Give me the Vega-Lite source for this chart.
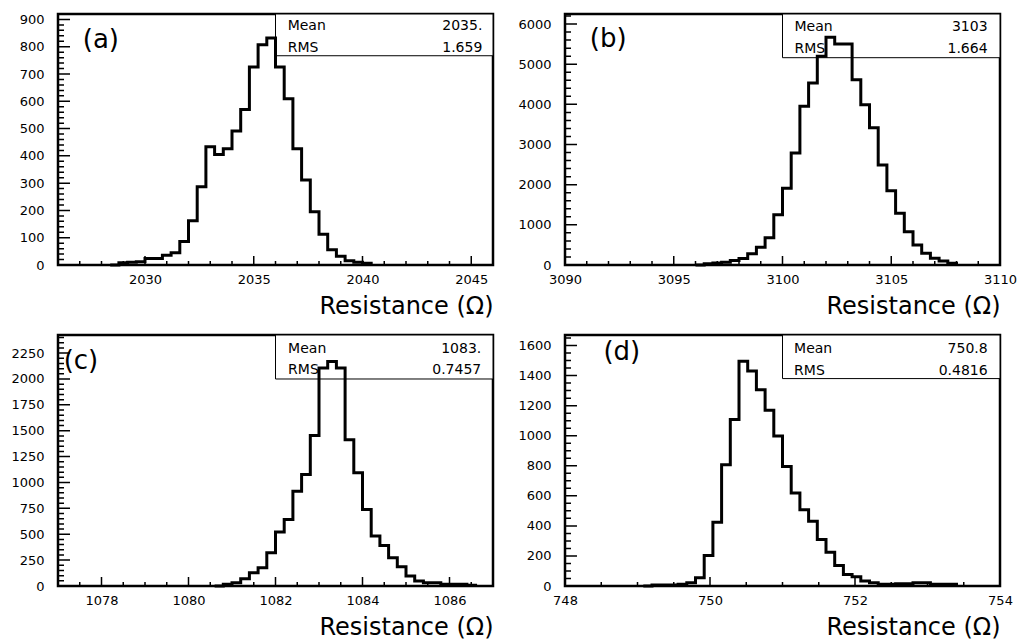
{
  "$schema": "https://vega.github.io/schema/vega-lite/v6.json",
  "background": "white",
  "padding": {"left": 9, "top": 12, "right": 5, "bottom": 5},
  "datasets": {
    "a": [
      {"x": 2028.4, "count": 0}, {"x": 2028.8, "count": 8}, {"x": 2029.2, "count": 10}, {"x": 2029.6, "count": 12},
      {"x": 2030.0, "count": 24}, {"x": 2030.4, "count": 24}, {"x": 2030.8, "count": 36}, {"x": 2031.2, "count": 45},
      {"x": 2031.6, "count": 86}, {"x": 2032.0, "count": 162}, {"x": 2032.4, "count": 287}, {"x": 2032.8, "count": 433},
      {"x": 2033.2, "count": 405}, {"x": 2033.6, "count": 426}, {"x": 2034.0, "count": 491}, {"x": 2034.4, "count": 570},
      {"x": 2034.8, "count": 726}, {"x": 2035.2, "count": 807}, {"x": 2035.6, "count": 832}, {"x": 2036.0, "count": 726},
      {"x": 2036.4, "count": 609}, {"x": 2036.8, "count": 426}, {"x": 2037.2, "count": 312}, {"x": 2037.6, "count": 195},
      {"x": 2038.0, "count": 113}, {"x": 2038.4, "count": 56}, {"x": 2038.8, "count": 32}, {"x": 2039.2, "count": 16},
      {"x": 2039.6, "count": 10}, {"x": 2040.0, "count": 6}, {"x": 2040.4, "count": 0}
    ],
    "b": [
      {"x": 3096.0, "count": 0}, {"x": 3096.4, "count": 30}, {"x": 3096.8, "count": 50}, {"x": 3097.2, "count": 70},
      {"x": 3097.6, "count": 110}, {"x": 3098.0, "count": 160}, {"x": 3098.4, "count": 280}, {"x": 3098.8, "count": 440},
      {"x": 3099.2, "count": 680}, {"x": 3099.6, "count": 1250}, {"x": 3100.0, "count": 1910}, {"x": 3100.4, "count": 2790},
      {"x": 3100.8, "count": 3950}, {"x": 3101.2, "count": 4530}, {"x": 3101.6, "count": 5200}, {"x": 3102.0, "count": 5670},
      {"x": 3102.4, "count": 5500}, {"x": 3102.8, "count": 5500}, {"x": 3103.2, "count": 4610}, {"x": 3103.6, "count": 3990},
      {"x": 3104.0, "count": 3420}, {"x": 3104.4, "count": 2490}, {"x": 3104.8, "count": 1850}, {"x": 3105.2, "count": 1290},
      {"x": 3105.6, "count": 830}, {"x": 3106.0, "count": 500}, {"x": 3106.4, "count": 290}, {"x": 3106.8, "count": 170},
      {"x": 3107.2, "count": 100}, {"x": 3107.6, "count": 45}, {"x": 3108.0, "count": 0}
    ],
    "c": [
      {"x": 1080.6, "count": 0}, {"x": 1080.8, "count": 16}, {"x": 1081.0, "count": 32}, {"x": 1081.2, "count": 71},
      {"x": 1081.4, "count": 129}, {"x": 1081.6, "count": 177}, {"x": 1081.8, "count": 321}, {"x": 1082.0, "count": 521},
      {"x": 1082.2, "count": 643}, {"x": 1082.4, "count": 916}, {"x": 1082.6, "count": 1077}, {"x": 1082.8, "count": 1453},
      {"x": 1083.0, "count": 2105}, {"x": 1083.2, "count": 2170}, {"x": 1083.4, "count": 2105}, {"x": 1083.6, "count": 1414},
      {"x": 1083.8, "count": 1093}, {"x": 1084.0, "count": 739}, {"x": 1084.2, "count": 482}, {"x": 1084.4, "count": 392},
      {"x": 1084.6, "count": 273}, {"x": 1084.8, "count": 186}, {"x": 1085.0, "count": 96}, {"x": 1085.2, "count": 48},
      {"x": 1085.4, "count": 32}, {"x": 1085.6, "count": 32}, {"x": 1085.8, "count": 16}, {"x": 1086.0, "count": 16},
      {"x": 1086.2, "count": 16}, {"x": 1086.4, "count": 8}, {"x": 1086.6, "count": 0}
    ],
    "d": [
      {"x": 749.08, "count": 0}, {"x": 749.20, "count": 7}, {"x": 749.32, "count": 7}, {"x": 749.44, "count": 7},
      {"x": 749.56, "count": 11}, {"x": 749.68, "count": 22}, {"x": 749.80, "count": 55}, {"x": 749.92, "count": 203},
      {"x": 750.04, "count": 424}, {"x": 750.16, "count": 806}, {"x": 750.28, "count": 1108}, {"x": 750.40, "count": 1496},
      {"x": 750.52, "count": 1430}, {"x": 750.64, "count": 1306}, {"x": 750.76, "count": 1170}, {"x": 750.88, "count": 998},
      {"x": 751.00, "count": 795}, {"x": 751.12, "count": 618}, {"x": 751.24, "count": 508}, {"x": 751.36, "count": 430},
      {"x": 751.48, "count": 309}, {"x": 751.60, "count": 225}, {"x": 751.72, "count": 137}, {"x": 751.84, "count": 77},
      {"x": 751.96, "count": 62}, {"x": 752.08, "count": 33}, {"x": 752.20, "count": 22}, {"x": 752.32, "count": 11},
      {"x": 752.44, "count": 11}, {"x": 752.56, "count": 15}, {"x": 752.68, "count": 15}, {"x": 752.80, "count": 22},
      {"x": 752.92, "count": 22}, {"x": 753.04, "count": 11}, {"x": 753.16, "count": 11}, {"x": 753.28, "count": 11},
      {"x": 753.40, "count": 0}
    ],
    "one": [{}],
    "xt_a": [
      {"v": 2027, "k": "xmin"}, {"v": 2028, "k": "xmin"}, {"v": 2029, "k": "xmin"}, {"v": 2030, "k": "xmaj"},
      {"v": 2031, "k": "xmin"}, {"v": 2032, "k": "xmin"}, {"v": 2033, "k": "xmin"}, {"v": 2034, "k": "xmin"},
      {"v": 2035, "k": "xmaj"}, {"v": 2036, "k": "xmin"}, {"v": 2037, "k": "xmin"}, {"v": 2038, "k": "xmin"},
      {"v": 2039, "k": "xmin"}, {"v": 2040, "k": "xmaj"}, {"v": 2041, "k": "xmin"}, {"v": 2042, "k": "xmin"},
      {"v": 2043, "k": "xmin"}, {"v": 2044, "k": "xmin"}, {"v": 2045, "k": "xmaj"}
    ],
    "yt_a": [
      {"v": 20, "k": "ymin"}, {"v": 40, "k": "ymin"}, {"v": 60, "k": "ymin"}, {"v": 80, "k": "ymin"}, {"v": 100, "k": "ymaj"},
      {"v": 120, "k": "ymin"}, {"v": 140, "k": "ymin"}, {"v": 160, "k": "ymin"}, {"v": 180, "k": "ymin"}, {"v": 200, "k": "ymaj"},
      {"v": 220, "k": "ymin"}, {"v": 240, "k": "ymin"}, {"v": 260, "k": "ymin"}, {"v": 280, "k": "ymin"}, {"v": 300, "k": "ymaj"},
      {"v": 320, "k": "ymin"}, {"v": 340, "k": "ymin"}, {"v": 360, "k": "ymin"}, {"v": 380, "k": "ymin"}, {"v": 400, "k": "ymaj"},
      {"v": 420, "k": "ymin"}, {"v": 440, "k": "ymin"}, {"v": 460, "k": "ymin"}, {"v": 480, "k": "ymin"}, {"v": 500, "k": "ymaj"},
      {"v": 520, "k": "ymin"}, {"v": 540, "k": "ymin"}, {"v": 560, "k": "ymin"}, {"v": 580, "k": "ymin"}, {"v": 600, "k": "ymaj"},
      {"v": 620, "k": "ymin"}, {"v": 640, "k": "ymin"}, {"v": 660, "k": "ymin"}, {"v": 680, "k": "ymin"}, {"v": 700, "k": "ymaj"},
      {"v": 720, "k": "ymin"}, {"v": 740, "k": "ymin"}, {"v": 760, "k": "ymin"}, {"v": 780, "k": "ymin"}, {"v": 800, "k": "ymaj"},
      {"v": 820, "k": "ymin"}, {"v": 840, "k": "ymin"}, {"v": 860, "k": "ymin"}, {"v": 880, "k": "ymin"}, {"v": 900, "k": "ymaj"}
    ],
    "xt_b": [
      {"v": 3091, "k": "xmin"}, {"v": 3092, "k": "xmin"}, {"v": 3093, "k": "xmin"}, {"v": 3094, "k": "xmin"},
      {"v": 3095, "k": "xmaj"}, {"v": 3096, "k": "xmin"}, {"v": 3097, "k": "xmin"}, {"v": 3098, "k": "xmin"},
      {"v": 3099, "k": "xmin"}, {"v": 3100, "k": "xmaj"}, {"v": 3101, "k": "xmin"}, {"v": 3102, "k": "xmin"},
      {"v": 3103, "k": "xmin"}, {"v": 3104, "k": "xmin"}, {"v": 3105, "k": "xmaj"}, {"v": 3106, "k": "xmin"},
      {"v": 3107, "k": "xmin"}, {"v": 3108, "k": "xmin"}, {"v": 3109, "k": "xmin"}
    ],
    "yt_b": [
      {"v": 200, "k": "ymin"}, {"v": 400, "k": "ymin"}, {"v": 600, "k": "ymin"}, {"v": 800, "k": "ymin"}, {"v": 1000, "k": "ymaj"},
      {"v": 1200, "k": "ymin"}, {"v": 1400, "k": "ymin"}, {"v": 1600, "k": "ymin"}, {"v": 1800, "k": "ymin"}, {"v": 2000, "k": "ymaj"},
      {"v": 2200, "k": "ymin"}, {"v": 2400, "k": "ymin"}, {"v": 2600, "k": "ymin"}, {"v": 2800, "k": "ymin"}, {"v": 3000, "k": "ymaj"},
      {"v": 3200, "k": "ymin"}, {"v": 3400, "k": "ymin"}, {"v": 3600, "k": "ymin"}, {"v": 3800, "k": "ymin"}, {"v": 4000, "k": "ymaj"},
      {"v": 4200, "k": "ymin"}, {"v": 4400, "k": "ymin"}, {"v": 4600, "k": "ymin"}, {"v": 4800, "k": "ymin"}, {"v": 5000, "k": "ymaj"},
      {"v": 5200, "k": "ymin"}, {"v": 5400, "k": "ymin"}, {"v": 5600, "k": "ymin"}, {"v": 5800, "k": "ymin"}, {"v": 6000, "k": "ymaj"},
      {"v": 6200, "k": "ymin"}
    ],
    "xt_c": [
      {"v": 1077.5, "k": "xmin"}, {"v": 1078, "k": "xmaj"}, {"v": 1078.5, "k": "xmin"}, {"v": 1079, "k": "xmin"},
      {"v": 1079.5, "k": "xmin"}, {"v": 1080, "k": "xmaj"}, {"v": 1080.5, "k": "xmin"}, {"v": 1081, "k": "xmin"},
      {"v": 1081.5, "k": "xmin"}, {"v": 1082, "k": "xmaj"}, {"v": 1082.5, "k": "xmin"}, {"v": 1083, "k": "xmin"},
      {"v": 1083.5, "k": "xmin"}, {"v": 1084, "k": "xmaj"}, {"v": 1084.5, "k": "xmin"}, {"v": 1085, "k": "xmin"},
      {"v": 1085.5, "k": "xmin"}, {"v": 1086, "k": "xmaj"}, {"v": 1086.5, "k": "xmin"}
    ],
    "yt_c": [
      {"v": 50, "k": "ymin"}, {"v": 100, "k": "ymin"}, {"v": 150, "k": "ymin"}, {"v": 200, "k": "ymin"}, {"v": 250, "k": "ymaj"},
      {"v": 300, "k": "ymin"}, {"v": 350, "k": "ymin"}, {"v": 400, "k": "ymin"}, {"v": 450, "k": "ymin"}, {"v": 500, "k": "ymaj"},
      {"v": 550, "k": "ymin"}, {"v": 600, "k": "ymin"}, {"v": 650, "k": "ymin"}, {"v": 700, "k": "ymin"}, {"v": 750, "k": "ymaj"},
      {"v": 800, "k": "ymin"}, {"v": 850, "k": "ymin"}, {"v": 900, "k": "ymin"}, {"v": 950, "k": "ymin"}, {"v": 1000, "k": "ymaj"},
      {"v": 1050, "k": "ymin"}, {"v": 1100, "k": "ymin"}, {"v": 1150, "k": "ymin"}, {"v": 1200, "k": "ymin"}, {"v": 1250, "k": "ymaj"},
      {"v": 1300, "k": "ymin"}, {"v": 1350, "k": "ymin"}, {"v": 1400, "k": "ymin"}, {"v": 1450, "k": "ymin"}, {"v": 1500, "k": "ymaj"},
      {"v": 1550, "k": "ymin"}, {"v": 1600, "k": "ymin"}, {"v": 1650, "k": "ymin"}, {"v": 1700, "k": "ymin"}, {"v": 1750, "k": "ymaj"},
      {"v": 1800, "k": "ymin"}, {"v": 1850, "k": "ymin"}, {"v": 1900, "k": "ymin"}, {"v": 1950, "k": "ymin"}, {"v": 2000, "k": "ymaj"},
      {"v": 2050, "k": "ymin"}, {"v": 2100, "k": "ymin"}, {"v": 2150, "k": "ymin"}, {"v": 2200, "k": "ymin"}, {"v": 2250, "k": "ymaj"},
      {"v": 2300, "k": "ymin"}, {"v": 2350, "k": "ymin"}, {"v": 2400, "k": "ymin"}
    ],
    "xt_d": [
      {"v": 748.5, "k": "xmin"}, {"v": 749, "k": "xmin"}, {"v": 749.5, "k": "xmin"}, {"v": 750, "k": "xmaj"},
      {"v": 750.5, "k": "xmin"}, {"v": 751, "k": "xmin"}, {"v": 751.5, "k": "xmin"}, {"v": 752, "k": "xmaj"},
      {"v": 752.5, "k": "xmin"}, {"v": 753, "k": "xmin"}, {"v": 753.5, "k": "xmin"}
    ],
    "yt_d": [
      {"v": 50, "k": "ymin"}, {"v": 100, "k": "ymin"}, {"v": 150, "k": "ymin"}, {"v": 200, "k": "ymaj"},
      {"v": 250, "k": "ymin"}, {"v": 300, "k": "ymin"}, {"v": 350, "k": "ymin"}, {"v": 400, "k": "ymaj"},
      {"v": 450, "k": "ymin"}, {"v": 500, "k": "ymin"}, {"v": 550, "k": "ymin"}, {"v": 600, "k": "ymaj"},
      {"v": 650, "k": "ymin"}, {"v": 700, "k": "ymin"}, {"v": 750, "k": "ymin"}, {"v": 800, "k": "ymaj"},
      {"v": 850, "k": "ymin"}, {"v": 900, "k": "ymin"}, {"v": 950, "k": "ymin"}, {"v": 1000, "k": "ymaj"},
      {"v": 1050, "k": "ymin"}, {"v": 1100, "k": "ymin"}, {"v": 1150, "k": "ymin"}, {"v": 1200, "k": "ymaj"},
      {"v": 1250, "k": "ymin"}, {"v": 1300, "k": "ymin"}, {"v": 1350, "k": "ymin"}, {"v": 1400, "k": "ymaj"},
      {"v": 1450, "k": "ymin"}, {"v": 1500, "k": "ymin"}, {"v": 1550, "k": "ymin"}, {"v": 1600, "k": "ymaj"},
      {"v": 1650, "k": "ymin"}
    ]
  },
  "columns": 2,
  "spacing": {"column": 72, "row": 70},
  "bounds": "flush",
  "concat": [
    {
      "width": 435, "height": 251,
      "resolve": {"axis": {"x": "independent", "y": "independent"}},
      "layer": [
        {
          "data": {"name": "one"},
          "mark": {"type": "rect", "fill": "white", "stroke": "black", "strokeWidth": 1},
          "encoding": {
            "x": {"datum": 2036, "type": "quantitative", "scale": {"domain": [2026, 2046], "nice": false, "zero": false}, "axis": null},
            "x2": {"datum": 2046},
            "y": {"datum": 767, "type": "quantitative", "scale": {"domain": [0, 920], "nice": false, "zero": false}, "axis": null},
            "y2": {"datum": 920}
          }
        },
        {
          "data": {"name": "one"},
          "mark": {"type": "text", "align": "left", "baseline": "top", "fontSize": 14, "lineHeight": 21.7, "text": ["Mean", "RMS"]},
          "encoding": {"x": {"datum": 2036.56, "type": "quantitative", "axis": null}, "y": {"datum": 902, "type": "quantitative", "axis": null}}
        },
        {
          "data": {"name": "one"},
          "mark": {"type": "text", "align": "right", "baseline": "top", "fontSize": 14, "lineHeight": 21.7, "text": ["2035.", "1.659"]},
          "encoding": {"x": {"datum": 2045.51, "type": "quantitative", "axis": null}, "y": {"datum": 902, "type": "quantitative", "axis": null}}
        },
        {
          "data": {"name": "one"},
          "mark": {"type": "text", "align": "left", "baseline": "middle", "fontSize": 26, "text": "(a)"},
          "encoding": {"x": {"datum": 2027.14, "type": "quantitative", "axis": null}, "y": {"datum": 826, "type": "quantitative", "axis": null}}
        },
        {
          "data": {"name": "a"},
          "mark": {"type": "line", "interpolate": "step-after", "color": "black", "strokeWidth": 3, "strokeJoin": "miter"},
          "encoding": {
            "x": {"field": "x", "type": "quantitative", "scale": {"domain": [2026, 2046], "nice": false, "zero": false},
                  "axis": {"orient": "bottom", "ticks": false, "labelPadding": 8, "values": [2030, 2035, 2040, 2045], "format": "d", "title": "Resistance (Ω)", "titleAnchor": "end", "titleFontSize": 24, "titleFontWeight": "normal", "titlePadding": 8}},
            "y": {"field": "count", "type": "quantitative", "scale": {"domain": [0, 920], "nice": false, "zero": false},
                  "axis": {"orient": "left", "ticks": false, "labelPadding": 14, "values": [0,100,200,300,400,500,600,700,800,900], "format": "d", "title": null}}
          }
        },
        {
          "data": {"name": "xt_a"}, "transform": [{"filter": "datum.k == 'xmaj'"}],
          "mark": {"type": "rect", "fill": "black", "stroke": "black", "strokeWidth": 1.5},
          "encoding": {"x": {"field": "v", "type": "quantitative", "axis": null}, "x2": {"field": "v"}, "y": {"datum": 0, "type": "quantitative", "axis": null}, "y2": {"datum": 33}}
        },
        {
          "data": {"name": "xt_a"}, "transform": [{"filter": "datum.k == 'xmin'"}],
          "mark": {"type": "rect", "fill": "black", "stroke": "black", "strokeWidth": 1.5},
          "encoding": {"x": {"field": "v", "type": "quantitative", "axis": null}, "x2": {"field": "v"}, "y": {"datum": 0, "type": "quantitative", "axis": null}, "y2": {"datum": 15}}
        },
        {
          "data": {"name": "yt_a"}, "transform": [{"filter": "datum.k == 'ymaj'"}],
          "mark": {"type": "rect", "fill": "black", "stroke": "black", "strokeWidth": 1.5},
          "encoding": {"y": {"field": "v", "type": "quantitative", "axis": null}, "y2": {"field": "v"}, "x": {"datum": 2026, "type": "quantitative", "axis": null}, "x2": {"datum": 2026.552}}
        },
        {
          "data": {"name": "yt_a"}, "transform": [{"filter": "datum.k == 'ymin'"}],
          "mark": {"type": "rect", "fill": "black", "stroke": "black", "strokeWidth": 1.5},
          "encoding": {"y": {"field": "v", "type": "quantitative", "axis": null}, "y2": {"field": "v"}, "x": {"datum": 2026, "type": "quantitative", "axis": null}, "x2": {"datum": 2026.276}}
        }
      ]
    },
    {
      "width": 435, "height": 251,
      "resolve": {"axis": {"x": "independent", "y": "independent"}},
      "layer": [
        {
          "data": {"name": "one"},
          "mark": {"type": "rect", "fill": "white", "stroke": "black", "strokeWidth": 1},
          "encoding": {
            "x": {"datum": 3100, "type": "quantitative", "scale": {"domain": [3090, 3110], "nice": false, "zero": false}, "axis": null},
            "x2": {"datum": 3110},
            "y": {"datum": 5162, "type": "quantitative", "scale": {"domain": [0, 6250], "nice": false, "zero": false}, "axis": null},
            "y2": {"datum": 6250}
          }
        },
        {
          "data": {"name": "one"},
          "mark": {"type": "text", "align": "left", "baseline": "top", "fontSize": 14, "lineHeight": 21.7, "text": ["Mean", "RMS"]},
          "encoding": {"x": {"datum": 3100.55, "type": "quantitative", "axis": null}, "y": {"datum": 6100, "type": "quantitative", "axis": null}}
        },
        {
          "data": {"name": "one"},
          "mark": {"type": "text", "align": "right", "baseline": "top", "fontSize": 14, "lineHeight": 21.7, "text": ["3103", "1.664"]},
          "encoding": {"x": {"datum": 3109.43, "type": "quantitative", "axis": null}, "y": {"datum": 6100, "type": "quantitative", "axis": null}}
        },
        {
          "data": {"name": "one"},
          "mark": {"type": "text", "align": "left", "baseline": "middle", "fontSize": 26, "text": "(b)"},
          "encoding": {"x": {"datum": 3091.14, "type": "quantitative", "axis": null}, "y": {"datum": 5623, "type": "quantitative", "axis": null}}
        },
        {
          "data": {"name": "b"},
          "mark": {"type": "line", "interpolate": "step-after", "color": "black", "strokeWidth": 3, "strokeJoin": "miter"},
          "encoding": {
            "x": {"field": "x", "type": "quantitative", "scale": {"domain": [3090, 3110], "nice": false, "zero": false},
                  "axis": {"orient": "bottom", "ticks": false, "labelPadding": 8, "values": [3090, 3095, 3100, 3105, 3110], "format": "d", "title": "Resistance (Ω)", "titleAnchor": "end", "titleFontSize": 24, "titleFontWeight": "normal", "titlePadding": 8}},
            "y": {"field": "count", "type": "quantitative", "scale": {"domain": [0, 6250], "nice": false, "zero": false},
                  "axis": {"orient": "left", "ticks": false, "labelPadding": 14, "values": [0,1000,2000,3000,4000,5000,6000], "format": "d", "title": null}}
          }
        },
        {
          "data": {"name": "xt_b"}, "transform": [{"filter": "datum.k == 'xmaj'"}],
          "mark": {"type": "rect", "fill": "black", "stroke": "black", "strokeWidth": 1.5},
          "encoding": {"x": {"field": "v", "type": "quantitative", "axis": null}, "x2": {"field": "v"}, "y": {"datum": 0, "type": "quantitative", "axis": null}, "y2": {"datum": 224}}
        },
        {
          "data": {"name": "xt_b"}, "transform": [{"filter": "datum.k == 'xmin'"}],
          "mark": {"type": "rect", "fill": "black", "stroke": "black", "strokeWidth": 1.5},
          "encoding": {"x": {"field": "v", "type": "quantitative", "axis": null}, "x2": {"field": "v"}, "y": {"datum": 0, "type": "quantitative", "axis": null}, "y2": {"datum": 100}}
        },
        {
          "data": {"name": "yt_b"}, "transform": [{"filter": "datum.k == 'ymaj'"}],
          "mark": {"type": "rect", "fill": "black", "stroke": "black", "strokeWidth": 1.5},
          "encoding": {"y": {"field": "v", "type": "quantitative", "axis": null}, "y2": {"field": "v"}, "x": {"datum": 3090, "type": "quantitative", "axis": null}, "x2": {"datum": 3090.552}}
        },
        {
          "data": {"name": "yt_b"}, "transform": [{"filter": "datum.k == 'ymin'"}],
          "mark": {"type": "rect", "fill": "black", "stroke": "black", "strokeWidth": 1.5},
          "encoding": {"y": {"field": "v", "type": "quantitative", "axis": null}, "y2": {"field": "v"}, "x": {"datum": 3090, "type": "quantitative", "axis": null}, "x2": {"datum": 3090.276}}
        }
      ]
    },
    {
      "width": 435, "height": 251,
      "resolve": {"axis": {"x": "independent", "y": "independent"}},
      "layer": [
        {
          "data": {"name": "one"},
          "mark": {"type": "rect", "fill": "white", "stroke": "black", "strokeWidth": 1},
          "encoding": {
            "x": {"datum": 1082, "type": "quantitative", "scale": {"domain": [1077, 1087], "nice": false, "zero": false}, "axis": null},
            "x2": {"datum": 1087},
            "y": {"datum": 2000, "type": "quantitative", "scale": {"domain": [0, 2425], "nice": false, "zero": false}, "axis": null},
            "y2": {"datum": 2425}
          }
        },
        {
          "data": {"name": "one"},
          "mark": {"type": "text", "align": "left", "baseline": "top", "fontSize": 14, "lineHeight": 21.7, "text": ["Mean", "RMS"]},
          "encoding": {"x": {"datum": 1082.29, "type": "quantitative", "axis": null}, "y": {"datum": 2361, "type": "quantitative", "axis": null}}
        },
        {
          "data": {"name": "one"},
          "mark": {"type": "text", "align": "right", "baseline": "top", "fontSize": 14, "lineHeight": 21.7, "text": ["1083.", "0.7457"]},
          "encoding": {"x": {"datum": 1086.73, "type": "quantitative", "axis": null}, "y": {"datum": 2361, "type": "quantitative", "axis": null}}
        },
        {
          "data": {"name": "one"},
          "mark": {"type": "text", "align": "left", "baseline": "middle", "fontSize": 26, "text": "(c)"},
          "encoding": {"x": {"datum": 1077.13, "type": "quantitative", "axis": null}, "y": {"datum": 2176, "type": "quantitative", "axis": null}}
        },
        {
          "data": {"name": "c"},
          "mark": {"type": "line", "interpolate": "step-after", "color": "black", "strokeWidth": 3, "strokeJoin": "miter"},
          "encoding": {
            "x": {"field": "x", "type": "quantitative", "scale": {"domain": [1077, 1087], "nice": false, "zero": false},
                  "axis": {"orient": "bottom", "ticks": false, "labelPadding": 8, "values": [1078, 1080, 1082, 1084, 1086], "format": "d", "title": "Resistance (Ω)", "titleAnchor": "end", "titleFontSize": 24, "titleFontWeight": "normal", "titlePadding": 8}},
            "y": {"field": "count", "type": "quantitative", "scale": {"domain": [0, 2425], "nice": false, "zero": false},
                  "axis": {"orient": "left", "ticks": false, "labelPadding": 14, "values": [0,250,500,750,1000,1250,1500,1750,2000,2250], "format": "d", "title": null}}
          }
        },
        {
          "data": {"name": "xt_c"}, "transform": [{"filter": "datum.k == 'xmaj'"}],
          "mark": {"type": "rect", "fill": "black", "stroke": "black", "strokeWidth": 1.5},
          "encoding": {"x": {"field": "v", "type": "quantitative", "axis": null}, "x2": {"field": "v"}, "y": {"datum": 0, "type": "quantitative", "axis": null}, "y2": {"datum": 87}}
        },
        {
          "data": {"name": "xt_c"}, "transform": [{"filter": "datum.k == 'xmin'"}],
          "mark": {"type": "rect", "fill": "black", "stroke": "black", "strokeWidth": 1.5},
          "encoding": {"x": {"field": "v", "type": "quantitative", "axis": null}, "x2": {"field": "v"}, "y": {"datum": 0, "type": "quantitative", "axis": null}, "y2": {"datum": 39}}
        },
        {
          "data": {"name": "yt_c"}, "transform": [{"filter": "datum.k == 'ymaj'"}],
          "mark": {"type": "rect", "fill": "black", "stroke": "black", "strokeWidth": 1.5},
          "encoding": {"y": {"field": "v", "type": "quantitative", "axis": null}, "y2": {"field": "v"}, "x": {"datum": 1077, "type": "quantitative", "axis": null}, "x2": {"datum": 1077.276}}
        },
        {
          "data": {"name": "yt_c"}, "transform": [{"filter": "datum.k == 'ymin'"}],
          "mark": {"type": "rect", "fill": "black", "stroke": "black", "strokeWidth": 1.5},
          "encoding": {"y": {"field": "v", "type": "quantitative", "axis": null}, "y2": {"field": "v"}, "x": {"datum": 1077, "type": "quantitative", "axis": null}, "x2": {"datum": 1077.138}}
        }
      ]
    },
    {
      "width": 435, "height": 251,
      "resolve": {"axis": {"x": "independent", "y": "independent"}},
      "layer": [
        {
          "data": {"name": "one"},
          "mark": {"type": "rect", "fill": "white", "stroke": "black", "strokeWidth": 1},
          "encoding": {
            "x": {"datum": 751, "type": "quantitative", "scale": {"domain": [748, 754], "nice": false, "zero": false}, "axis": null},
            "x2": {"datum": 754},
            "y": {"datum": 1380, "type": "quantitative", "scale": {"domain": [0, 1670], "nice": false, "zero": false}, "axis": null},
            "y2": {"datum": 1670}
          }
        },
        {
          "data": {"name": "one"},
          "mark": {"type": "text", "align": "left", "baseline": "top", "fontSize": 14, "lineHeight": 21.7, "text": ["Mean", "RMS"]},
          "encoding": {"x": {"datum": 751.16, "type": "quantitative", "axis": null}, "y": {"datum": 1621, "type": "quantitative", "axis": null}}
        },
        {
          "data": {"name": "one"},
          "mark": {"type": "text", "align": "right", "baseline": "top", "fontSize": 14, "lineHeight": 21.7, "text": ["750.8", "0.4816"]},
          "encoding": {"x": {"datum": 753.83, "type": "quantitative", "axis": null}, "y": {"datum": 1621, "type": "quantitative", "axis": null}}
        },
        {
          "data": {"name": "one"},
          "mark": {"type": "text", "align": "left", "baseline": "middle", "fontSize": 26, "text": "(d)"},
          "encoding": {"x": {"datum": 748.53, "type": "quantitative", "axis": null}, "y": {"datum": 1558, "type": "quantitative", "axis": null}}
        },
        {
          "data": {"name": "d"},
          "mark": {"type": "line", "interpolate": "step-after", "color": "black", "strokeWidth": 3, "strokeJoin": "miter"},
          "encoding": {
            "x": {"field": "x", "type": "quantitative", "scale": {"domain": [748, 754], "nice": false, "zero": false},
                  "axis": {"orient": "bottom", "ticks": false, "labelPadding": 8, "values": [748, 750, 752, 754], "format": "d", "title": "Resistance (Ω)", "titleAnchor": "end", "titleFontSize": 24, "titleFontWeight": "normal", "titlePadding": 8}},
            "y": {"field": "count", "type": "quantitative", "scale": {"domain": [0, 1670], "nice": false, "zero": false},
                  "axis": {"orient": "left", "ticks": false, "labelPadding": 14, "values": [0,200,400,600,800,1000,1200,1400,1600], "format": "d", "title": null}}
          }
        },
        {
          "data": {"name": "xt_d"}, "transform": [{"filter": "datum.k == 'xmaj'"}],
          "mark": {"type": "rect", "fill": "black", "stroke": "black", "strokeWidth": 1.5},
          "encoding": {"x": {"field": "v", "type": "quantitative", "axis": null}, "x2": {"field": "v"}, "y": {"datum": 0, "type": "quantitative", "axis": null}, "y2": {"datum": 60}}
        },
        {
          "data": {"name": "xt_d"}, "transform": [{"filter": "datum.k == 'xmin'"}],
          "mark": {"type": "rect", "fill": "black", "stroke": "black", "strokeWidth": 1.5},
          "encoding": {"x": {"field": "v", "type": "quantitative", "axis": null}, "x2": {"field": "v"}, "y": {"datum": 0, "type": "quantitative", "axis": null}, "y2": {"datum": 27}}
        },
        {
          "data": {"name": "yt_d"}, "transform": [{"filter": "datum.k == 'ymaj'"}],
          "mark": {"type": "rect", "fill": "black", "stroke": "black", "strokeWidth": 1.5},
          "encoding": {"y": {"field": "v", "type": "quantitative", "axis": null}, "y2": {"field": "v"}, "x": {"datum": 748, "type": "quantitative", "axis": null}, "x2": {"datum": 748.1655}}
        },
        {
          "data": {"name": "yt_d"}, "transform": [{"filter": "datum.k == 'ymin'"}],
          "mark": {"type": "rect", "fill": "black", "stroke": "black", "strokeWidth": 1.5},
          "encoding": {"y": {"field": "v", "type": "quantitative", "axis": null}, "y2": {"field": "v"}, "x": {"datum": 748, "type": "quantitative", "axis": null}, "x2": {"datum": 748.0828}}
        }
      ]
    }
  ],
  "config": {
    "view": {"stroke": "black", "strokeWidth": 2.5},
    "axis": {"labelFont": "DejaVu Sans", "labelFontSize": 13, "labelColor": "black", "domain": false, "grid": false, "titleFont": "DejaVu Sans", "titleColor": "black", "labelFlush": false, "labelOverlap": false},
    "text": {"font": "DejaVu Sans", "color": "black"}
  }
}
